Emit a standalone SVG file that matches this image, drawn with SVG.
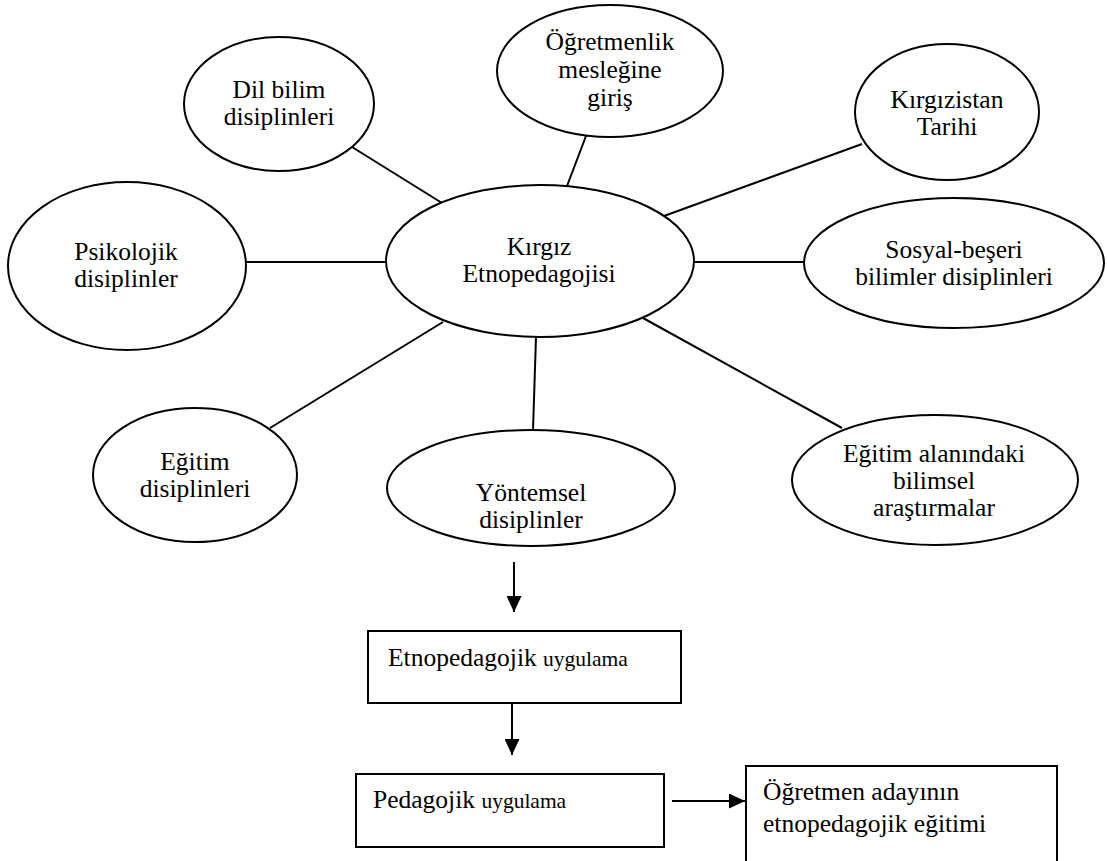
<svg xmlns="http://www.w3.org/2000/svg" width="1107" height="861" viewBox="0 0 1107 861">
<defs>
<marker id="ah" markerWidth="16" markerHeight="15" refX="16" refY="7.5" orient="auto" markerUnits="userSpaceOnUse" viewBox="0 0 16 15">
<path d="M0,0 L16,7.5 L0,15 z" fill="#000"/>
</marker>
<style>
.n ellipse, .n rect { fill: #fff; stroke: #000; stroke-width: 2; }
text { font-family: 'Liberation Serif', 'Times New Roman', serif; font-size: 25.5px; fill: #000; }
.t { text-anchor: middle; }
.s { font-size: 21.5px; }
.c line { stroke: #000; stroke-width: 2; }
.c .a { marker-end: url(#ah); }
</style>
</defs>
<rect width="1107" height="861" fill="#fff"/>
<g class="c" id="connectors">
<line x1="352" y1="147" x2="442" y2="203"/>
<line x1="586" y1="136" x2="567" y2="186"/>
<line x1="862" y1="144" x2="664" y2="216"/>
<line x1="246" y1="262" x2="386" y2="262"/>
<line x1="693" y1="262" x2="804" y2="262"/>
<line x1="270" y1="428" x2="443" y2="322"/>
<line x1="536" y1="337" x2="533" y2="430"/>
<line x1="643" y1="318" x2="842" y2="428"/>
<line class="a" x1="514" y1="562" x2="514" y2="612"/>
<line class="a" x1="512" y1="703" x2="512" y2="755"/>
<line class="a" x1="672" y1="801" x2="745" y2="801"/>
</g>
<g class="n" id="n-ogretmenlik">
<ellipse cx="610" cy="71" rx="113" ry="66"/>
<text class="t" x="610" y="50">Öğretmenlik</text>
<text class="t" x="610" y="78">mesleğine</text>
<text class="t" x="610" y="106">giriş</text>
</g>
<g class="n" id="n-dilbilim">
<ellipse cx="279" cy="104" rx="95" ry="67"/>
<text class="t" x="279" y="98">Dil bilim</text>
<text class="t" x="279" y="125">disiplinleri</text>
</g>
<g class="n" id="n-kirgizistan">
<ellipse cx="947" cy="112" rx="92" ry="68"/>
<text class="t" x="947" y="108">Kırgızistan</text>
<text class="t" x="947" y="135">Tarihi</text>
</g>
<g class="n" id="n-psikolojik">
<ellipse cx="127" cy="266" rx="119" ry="84"/>
<text class="t" x="126" y="260">Psikolojik</text>
<text class="t" x="126" y="287">disiplinler</text>
</g>
<g class="n" id="n-center">
<ellipse cx="540" cy="261" rx="154" ry="76"/>
<text class="t" x="539" y="255">Kırgız</text>
<text class="t" x="539" y="282">Etnopedagojisi</text>
</g>
<g class="n" id="n-sosyal">
<ellipse cx="954" cy="263" rx="150" ry="65"/>
<text class="t" x="954" y="258">Sosyal-beşeri</text>
<text class="t" x="954" y="285">bilimler disiplinleri</text>
</g>
<g class="n" id="n-egitim">
<ellipse cx="195" cy="475" rx="102" ry="67"/>
<text class="t" x="195" y="470">Eğitim</text>
<text class="t" x="195" y="497">disiplinleri</text>
</g>
<g class="n" id="n-yontemsel">
<ellipse cx="531" cy="488" rx="144" ry="58"/>
<text class="t" x="531" y="501">Yöntemsel</text>
<text class="t" x="531" y="528">disiplinler</text>
</g>
<g class="n" id="n-alan">
<ellipse cx="935" cy="480" rx="143" ry="65"/>
<text class="t" x="934" y="462">Eğitim alanındaki</text>
<text class="t" x="934" y="489">bilimsel</text>
<text class="t" x="934" y="516">araştırmalar</text>
</g>
<g class="n" id="n-etnouyg">
<rect x="368" y="631" width="313" height="72"/>
<text x="388" y="666">Etnopedagojik <tspan class="s">uygulama</tspan></text>
</g>
<g class="n" id="n-peduyg">
<rect x="356" y="774" width="308" height="73"/>
<text x="373" y="808">Pedagojik <tspan class="s">uygulama</tspan></text>
</g>
<g class="n" id="n-aday">
<rect x="746" y="766" width="311" height="110"/>
<text x="763" y="800">Öğretmen adayının</text>
<text x="763" y="832">etnopedagojik eğitimi</text>
</g>
</svg>
